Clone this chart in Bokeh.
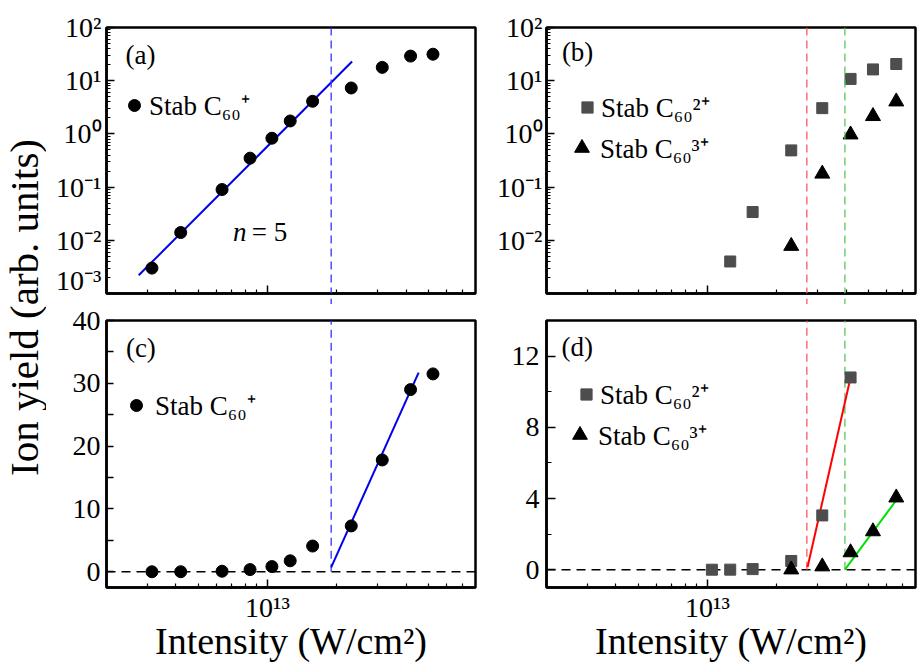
import math
from bokeh.plotting import figure
from bokeh.models import Range1d, FixedTicker, Span, Legend, LegendItem, Label
from bokeh.layouts import row, column
from bokeh.embed import file_html
from bokeh.resources import INLINE

FONT = "Liberation Serif"

# ---------------- data ----------------
intensity = [3.15e12, 4.2e12, 6.35e12, 8.4e12, 1.045e13, 1.255e13, 1.57e13,
             2.31e13, 3.15e13, 4.18e13, 5.23e13, 6.6e13]
intensity_1 = intensity[:11]
c60_1 = [0.003, 0.014, 0.09, 0.35, 0.83, 1.75, 4.1, 7.3, 17.8, 29.0, 31.5]
intensity_2 = intensity[4:]
c60_2 = [0.0005, 0.004, 0.034, 0.49, 3.05, 10.8, 16.3, 20.6]
intensity_3 = intensity[7:]
c60_3 = [0.0078, 0.178, 0.97, 2.15, 4.05]

fit_a_x = [2.76e12, 2.33e13]
fit_a_y = [0.0022, 23.0]
fit_c_x = [1.89e13, 4.53e13]
fit_c_y = [0.7, 31.7]
fit_2_x = [2.72e13, 4.18e13]
fit_2_y = [0.15, 10.8]
fit_3_x = [3.95e13, 6.6e13]
fit_3_y = [0.0, 3.9]
threshold_1 = 1.89e13
threshold_2 = 2.7e13
threshold_3 = 3.95e13

x_major = [1e13]
x_minor = [3e12, 4e12, 5e12, 6e12, 7e12, 8e12, 9e12,
           2e13, 3e13, 4e13, 5e13, 6e13, 7e13]
x_labels = {1e13: "10¹³"}
log_major = [1e-3, 1e-2, 1e-1, 1.0, 10.0, 100.0]
log_labels = ["10⁻³", "10⁻²", "10⁻¹", "10⁰", "10¹", "10²"]
log_minor = [m * d for d in [1e-3, 1e-2, 1e-1, 1.0, 10.0] for m in range(2, 10)]
lin_c_major = [0, 5, 10, 15, 20, 25, 30, 35, 40]
lin_c_labels = ["0", "", "10", "", "20", "", "30", "", "40"]
lin_d_major = [0, 4, 8, 12]
lin_d_minor = [2, 6, 10, 14]

X_LO, X_HI = 2e12, 8e13
C_ION1 = "black"
C_ION2 = "#4d4d4d"
C_ION3 = "black"
C_BLUE_DASH = "#3333ff"
C_RED_DASH = "#ff5555"
C_GREEN_DASH = "#5cc45c"

LEFT_L = 60   # left border of the left column (after the y-label strip)
LEFT_R = 69   # left border of the right column


def style_axis(ax, size="28px", tick=8, minor=4):
    ax.axis_line_width = 2.5
    ax.axis_line_color = "black"
    ax.major_tick_in = tick
    ax.major_tick_out = 0
    ax.minor_tick_in = minor
    ax.minor_tick_out = 0
    ax.major_tick_line_width = 1.5
    ax.minor_tick_line_width = 1.2
    ax.major_tick_line_color = "black"
    ax.minor_tick_line_color = "black"
    ax.major_label_text_font = FONT
    ax.major_label_text_font_size = size
    ax.major_label_text_color = "black"


def panel(y_type, y_lo, y_hi, left, top, bottom, fh):
    p = figure(x_axis_type="log", y_axis_type=y_type,
               x_range=Range1d(X_LO, X_HI), y_range=Range1d(y_lo, y_hi),
               frame_width=369, frame_height=fh,
               min_border_left=left, min_border_right=2,
               min_border_top=top, min_border_bottom=bottom,
               toolbar_location=None, output_backend="svg", title=None)
    p.grid.visible = False
    p.outline_line_color = "black"
    p.outline_line_width = 2.5
    p.background_fill_color = "white"
    p.border_fill_color = "white"
    xa = p.xaxis[0]
    style_axis(xa)
    xa.ticker = FixedTicker(ticks=x_major, minor_ticks=x_minor)
    return p


def gap(left, h):
    g = figure(x_axis_type="log", x_range=Range1d(X_LO, X_HI), y_range=Range1d(0, 1),
               frame_width=369, frame_height=h, min_border_left=left, min_border_right=2,
               min_border_top=0, min_border_bottom=0,
               x_axis_location=None, y_axis_location=None,
               toolbar_location=None, output_backend="svg", title=None)
    g.grid.visible = False
    g.outline_line_color = None
    return g


def add_legend(p, r, text, glyph, vx, vy, standoff):
    lg = Legend(items=[LegendItem(label=text, renderers=[r])], location=(vx, vy),
                glyph_width=glyph, glyph_height=glyph, label_standoff=standoff,
                padding=0, margin=0, spacing=0, border_line_color=None,
                background_fill_alpha=0, label_text_font=FONT,
                label_text_font_size="27px", label_text_color="black")
    p.add_layout(lg)


def add_label(p, x, y, text, size="27px", style="normal", align="center"):
    p.add_layout(Label(x=x, y=y, text=text, text_font=FONT, text_font_size=size,
                       text_font_style=style, text_align=align, text_baseline="middle",
                       text_color="black"))


def hide_x_labels(p):
    xa = p.xaxis[0]
    xa.major_label_overrides = {1e13: ""}
    xa.major_label_text_font_size = "1px"
    xa.major_label_standoff = 0


dash_v = "8 5"
dash_0 = "9 6"

# ---------------- (a) ----------------
pa = panel("log", 1e-3, 1e2, LEFT_L, 27, 2, 266)
hide_x_labels(pa)
ya = pa.yaxis[0]
style_axis(ya)
ya.ticker = FixedTicker(ticks=log_major, minor_ticks=log_minor)
ya.major_label_overrides = dict(zip(log_major, log_labels))
ya.major_label_standoff = 5
pa.add_layout(Span(location=threshold_1, dimension="height", line_color=C_BLUE_DASH,
                   line_dash=dash_v, line_width=1.3))
pa.line(fit_a_x, fit_a_y, line_color="#0000ee", line_width=2)
ra = pa.scatter(intensity_1, c60_1, marker="circle", size=12, color=C_ION1)
add_legend(pa, ra, "Stab C₆₀⁺", 30, 13, 170, 0)
add_label(pa, 2.81e12, 30.8, "(a)")
add_label(pa, 8.1e12, 0.0141, "n", style="italic", align="right")
add_label(pa, 8.55e12, 0.0141, "= 5", align="left")

# ---------------- (b) ----------------
pb = panel("log", 1e-3, 1e2, LEFT_R, 27, 2, 266)
hide_x_labels(pb)
yb = pb.yaxis[0]
style_axis(yb)
yb.ticker = FixedTicker(ticks=log_major, minor_ticks=log_minor)
ob = dict(zip(log_major, log_labels))
ob[1e-3] = ""
yb.major_label_overrides = ob
yb.major_label_standoff = 4
pb.add_layout(Span(location=threshold_2, dimension="height", line_color=C_RED_DASH,
                   line_dash=dash_v, line_width=1.3))
pb.add_layout(Span(location=threshold_3, dimension="height", line_color=C_GREEN_DASH,
                   line_dash=dash_v, line_width=1.3))
rb2 = pb.scatter(intensity_2, c60_2, marker="square", size=11, color=C_ION2)
rb3 = pb.scatter(intensity_3, c60_3, marker="triangle", size=15, color=C_ION3)
add_legend(pb, rb2, "Stab C₆₀²⁺", 28, 27, 168, 0)
add_legend(pb, rb3, "Stab C₆₀³⁺", 37, 17, 127, 0)
add_label(pb, 2.73e12, 35.0, "(b)")

# ---------------- (c) ----------------
pc = panel("linear", -2.5, 40, LEFT_L, 16, 76, 267)
yc = pc.yaxis[0]
style_axis(yc, tick=7, minor=7)
yc.ticker = FixedTicker(ticks=lin_c_major)
yc.major_label_overrides = dict(zip(lin_c_major, lin_c_labels))
yc.major_label_standoff = 6
pc.add_layout(Span(location=0, dimension="width", line_color="black",
                   line_dash=dash_0, line_width=1.5, level="underlay"))
pc.line([threshold_1, threshold_1], [0, 40], line_color=C_BLUE_DASH,
        line_dash=dash_v, line_width=1.3)
pc.line(fit_c_x, fit_c_y, line_color="#0000ee", line_width=2)
rc = pc.scatter(intensity_1, c60_1, marker="circle", size=12, color=C_ION1)
add_legend(pc, rc, "Stab C₆₀⁺", 30, 15, 164, 4)
add_label(pc, 2.82e12, 35.7, "(c)")

# ---------------- (d) ----------------
pd_ = panel("linear", -1, 14, LEFT_R, 16, 76, 267)
yd = pd_.yaxis[0]
style_axis(yd, tick=9, minor=5)
yd.ticker = FixedTicker(ticks=lin_d_major, minor_ticks=lin_d_minor)
yd.major_label_standoff = 7
pd_.add_layout(Span(location=0, dimension="width", line_color="black",
                    line_dash=dash_0, line_width=1.5, level="underlay"))
pd_.line([threshold_2, threshold_2], [0, 14], line_color=C_RED_DASH,
         line_dash=dash_v, line_width=1.3)
pd_.line([threshold_3, threshold_3], [0, 14], line_color=C_GREEN_DASH,
         line_dash=dash_v, line_width=1.3)
pd_.line(fit_2_x, fit_2_y, line_color="#ff0000", line_width=2)
pd_.line(fit_3_x, fit_3_y, line_color="#00e000", line_width=2)
rd2 = pd_.scatter(intensity_2, c60_2, marker="square", size=11, color=C_ION2)
rd3 = pd_.scatter(intensity_3, c60_3, marker="triangle", size=15, color=C_ION3)
add_legend(pd_, rd2, "Stab C₆₀²⁺", 28, 26, 175, 0)
add_legend(pd_, rd3, "Stab C₆₀³⁺", 37, 15, 134, 0)
add_label(pd_, 2.72e12, 12.5, "(d)")

for p in (pc, pd_):
    xa = p.xaxis[0]
    xa.major_label_overrides = x_labels
    xa.major_label_standoff = 4
    xa.axis_label = "Intensity (W/cm²)"
    xa.axis_label_text_font = FONT
    xa.axis_label_text_font_size = "38px"
    xa.axis_label_text_font_style = "normal"
    xa.axis_label_text_color = "black"
    xa.axis_label_standoff = -6

# ---------------- gaps (dashed lines continue between rows) ----------------
ga = gap(LEFT_L, 9)
ga.add_layout(Span(location=threshold_1, dimension="height", line_color=C_BLUE_DASH,
                   line_dash=dash_v, line_width=1.3))
gb = gap(LEFT_R, 9)
gb.add_layout(Span(location=threshold_2, dimension="height", line_color=C_RED_DASH,
                   line_dash=dash_v, line_width=1.3))
gb.add_layout(Span(location=threshold_3, dimension="height", line_color=C_GREEN_DASH,
                   line_dash=dash_v, line_width=1.3))

# ---------------- shared y label ----------------
yl = figure(width=46, height=663, x_range=Range1d(0, 46), y_range=Range1d(0, 663),
            min_border=0, x_axis_location=None, y_axis_location=None,
            toolbar_location=None, output_backend="svg", title=None)
yl.grid.visible = False
yl.outline_line_color = None
yl.add_layout(Label(x=23, y=356, text="Ion yield (arb. units)", angle=math.pi / 2,
                    text_align="center", text_baseline="middle", text_font=FONT,
                    text_font_size="41px", text_color="black"))

layout = row(yl, column(row(pa, pb), row(ga, gb), row(pc, pd_)))

with open("out.html", "w") as f:
    f.write(file_html(layout, INLINE))
